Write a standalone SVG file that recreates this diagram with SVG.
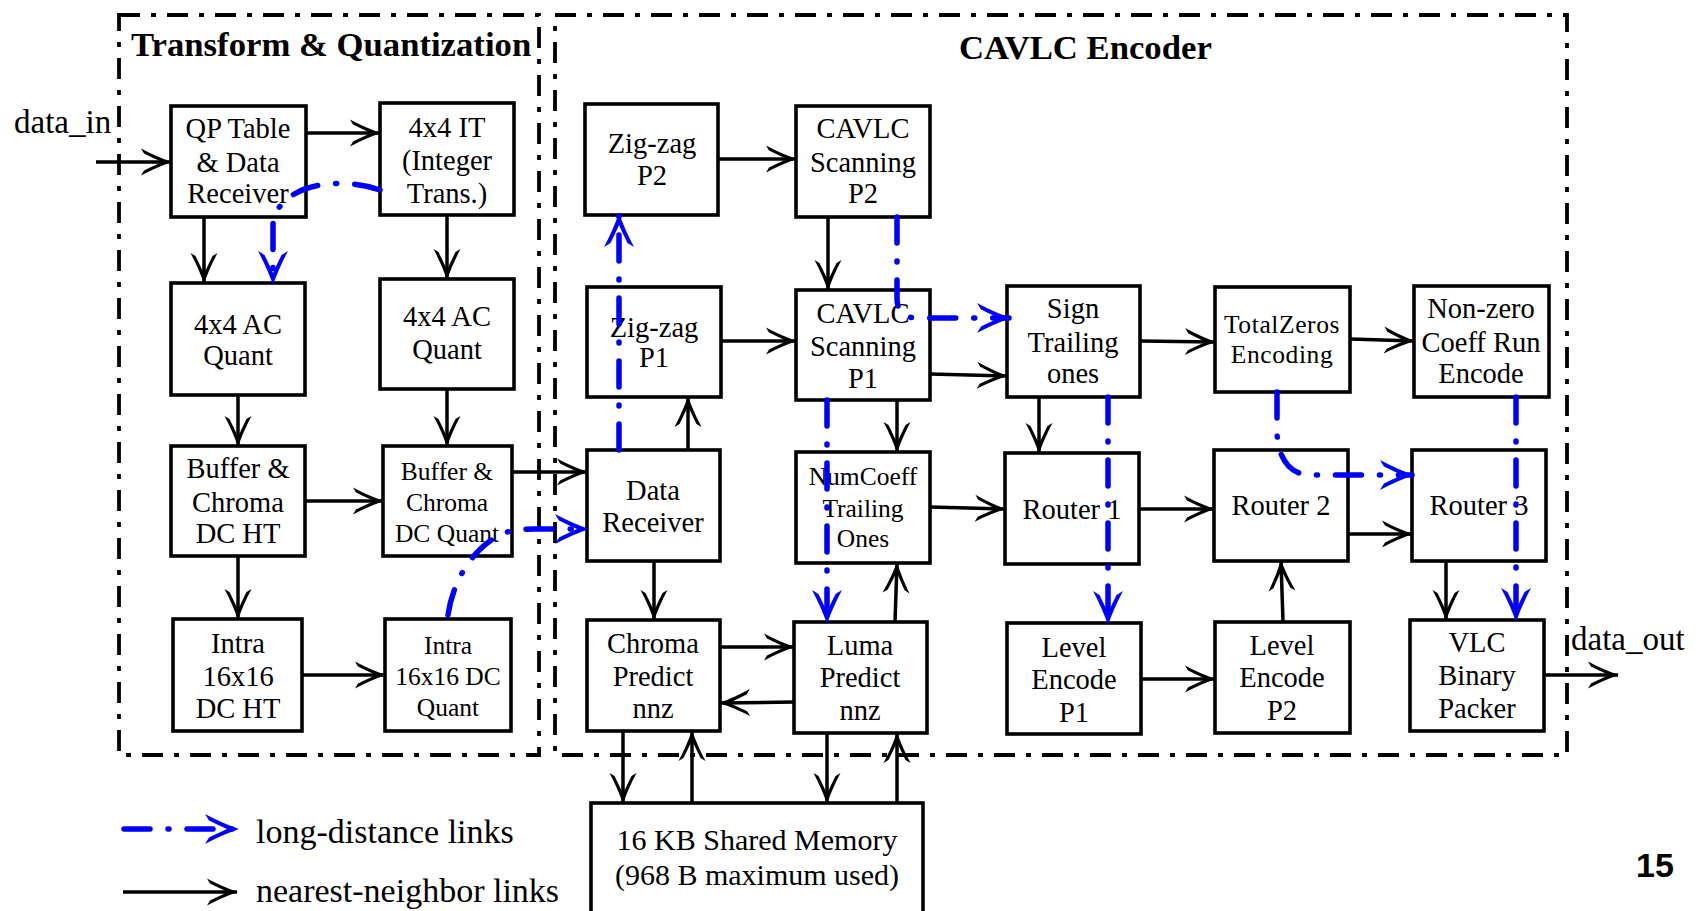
<svg xmlns="http://www.w3.org/2000/svg" width="1699" height="911" viewBox="0 0 1699 911">
  <style>
    .box { fill: #fff; stroke: #000; stroke-width: 3.6; }
    .grp { fill: none; stroke: #000; stroke-width: 3.8; stroke-dasharray: 21 11 5 11; }
    .t { font-family: "Liberation Serif", "Times New Roman", serif; font-size: 28.5px; text-anchor: middle; fill: #000; }
    .ts { font-size: 25.5px; }
    .title { font-family: "Liberation Serif", "Times New Roman", serif; font-size: 34.7px; font-weight: bold; fill: #000; }
    .lbl { font-family: "Liberation Serif", "Times New Roman", serif; font-size: 33px; fill: #000; }
    .leg { font-family: "Liberation Serif", "Times New Roman", serif; font-size: 34px; fill: #000; }
    .nn { fill: none; stroke: #000; stroke-width: 3.5; marker-end: url(#ah); }
    .ld { fill: none; stroke: #0000ff; stroke-width: 5.5; stroke-linecap: round; stroke-dasharray: 26 18 1 18; marker-end: url(#ahb); }
    .pg { font-family: "Liberation Sans", Arial, sans-serif; font-size: 34px; font-weight: bold; fill: #000; }
  </style>
  <defs>
    <!-- open barbed arrowheads; tip sits on the path end -->
    <marker id="ah" markerUnits="userSpaceOnUse" viewBox="-32 -15 34 30" markerWidth="34" markerHeight="30" refX="0" refY="0" orient="auto">
      <path d="M1,0 Q-14,-5 -30,-13.5 L-27,-8.5 Q-16,-3 -9,0 Q-16,3 -27,8.5 L-30,13.5 Q-14,5 1,0 Z" fill="#000"/>
    </marker>
    <marker id="ahb" markerUnits="userSpaceOnUse" viewBox="-34 -17 37 34" markerWidth="37" markerHeight="34" refX="0" refY="0" orient="auto">
      <path d="M2,0 Q-14,-5.5 -32,-15 L-28,-8.5 Q-17,-3 -10,0 Q-17,3 -28,8.5 L-32,15 Q-14,5.5 2,0 Z" fill="#0000ff"/>
    </marker>
  </defs>

  <rect width="1699" height="911" fill="#fff"/>

  <!-- block groupings -->
  <g id="group-tq">
    <rect class="grp" x="119" y="15" width="420" height="740"/>
    <text class="title" x="131" y="56">Transform &amp; Quantization</text>
  </g>
  <g id="group-cavlc">
    <rect class="grp" x="555" y="15" width="1012" height="740"/>
    <text class="title" x="959" y="59">CAVLC Encoder</text>
  </g>

  <!-- transform and quantization nodes -->
  <g id="qp-table">
    <rect class="box" x="171" y="106" width="135" height="111"/>
    <text class="t"><tspan x="238" y="138">QP Table</tspan><tspan x="238" y="172">&amp; Data</tspan><tspan x="238" y="203">Receiver</tspan></text>
  </g>
  <g id="int-transform">
    <rect class="box" x="380" y="103" width="134" height="112"/>
    <text class="t"><tspan x="447" y="137">4x4 IT</tspan><tspan x="447" y="170">(Integer</tspan><tspan x="447" y="203">Trans.)</tspan></text>
  </g>
  <g id="ac-quant-1">
    <rect class="box" x="171" y="283" width="134" height="112"/>
    <text class="t"><tspan x="238" y="334">4x4 AC</tspan><tspan x="238" y="365">Quant</tspan></text>
  </g>
  <g id="ac-quant-2">
    <rect class="box" x="380" y="279" width="134" height="110"/>
    <text class="t"><tspan x="447" y="326">4x4 AC</tspan><tspan x="447" y="359">Quant</tspan></text>
  </g>
  <g id="chroma-dc-ht">
    <rect class="box" x="171" y="446" width="134" height="110"/>
    <text class="t"><tspan x="238" y="478">Buffer &amp;</tspan><tspan x="238" y="512">Chroma</tspan><tspan x="238" y="543">DC HT</tspan></text>
  </g>
  <g id="chroma-dc-quant">
    <rect class="box" x="383" y="446" width="129" height="110"/>
    <text class="t ts"><tspan x="447" y="480">Buffer &amp;</tspan><tspan x="447" y="511">Chroma</tspan><tspan x="447" y="542">DC Quant</tspan></text>
  </g>
  <g id="intra-dc-ht">
    <rect class="box" x="173" y="619" width="129" height="112"/>
    <text class="t"><tspan x="238" y="653">Intra</tspan><tspan x="238" y="686">16x16</tspan><tspan x="238" y="718">DC HT</tspan></text>
  </g>
  <g id="intra-dc-quant">
    <rect class="box" x="385" y="619" width="126" height="112"/>
    <text class="t ts"><tspan x="448" y="654">Intra</tspan><tspan x="448" y="685">16x16 DC</tspan><tspan x="448" y="716">Quant</tspan></text>
  </g>

  <!-- CAVLC encoder nodes -->
  <g id="zigzag-p2">
    <rect class="box" x="585" y="104" width="133" height="111"/>
    <text class="t"><tspan x="652" y="153">Zig-zag</tspan><tspan x="652" y="185">P2</tspan></text>
  </g>
  <g id="scan-p2">
    <rect class="box" x="796" y="106" width="134" height="111"/>
    <text class="t"><tspan x="863" y="138">CAVLC</tspan><tspan x="863" y="172">Scanning</tspan><tspan x="863" y="203">P2</tspan></text>
  </g>
  <g id="zigzag-p1">
    <rect class="box" x="587" y="287" width="134" height="110"/>
    <text class="t"><tspan x="654" y="337">Zig-zag</tspan><tspan x="654" y="367">P1</tspan></text>
  </g>
  <g id="scan-p1">
    <rect class="box" x="796" y="290" width="134" height="110"/>
    <text class="t"><tspan x="863" y="323">CAVLC</tspan><tspan x="863" y="356">Scanning</tspan><tspan x="863" y="388">P1</tspan></text>
  </g>
  <g id="sign-trailing">
    <rect class="box" x="1007" y="286" width="133" height="111"/>
    <text class="t"><tspan x="1073" y="318">Sign</tspan><tspan x="1073" y="352">Trailing</tspan><tspan x="1073" y="383">ones</tspan></text>
  </g>
  <g id="total-zeros">
    <rect class="box" x="1215" y="287" width="135" height="105"/>
    <text class="t ts" letter-spacing="0.6"><tspan x="1282" y="333">TotalZeros</tspan><tspan x="1282" y="363">Encoding</tspan></text>
  </g>
  <g id="coeff-run">
    <rect class="box" x="1414" y="286" width="135" height="111"/>
    <text class="t"><tspan x="1481" y="318">Non-zero</tspan><tspan x="1481" y="352">Coeff Run</tspan><tspan x="1481" y="383">Encode</tspan></text>
  </g>
  <g id="data-receiver">
    <rect class="box" x="587" y="450" width="133" height="111"/>
    <text class="t"><tspan x="653" y="500">Data</tspan><tspan x="653" y="532">Receiver</tspan></text>
  </g>
  <g id="numcoeff">
    <rect class="box" x="796" y="452" width="134" height="111"/>
    <text class="t ts"><tspan x="863" y="485">NumCoeff</tspan><tspan x="863" y="517">Trailing</tspan><tspan x="863" y="547">Ones</tspan></text>
  </g>
  <g id="router-1">
    <rect class="box" x="1005" y="453" width="134" height="111"/>
    <text class="t" x="1072" y="519">Router 1</text>
  </g>
  <g id="router-2">
    <rect class="box" x="1214" y="450" width="134" height="111"/>
    <text class="t" x="1281" y="515">Router 2</text>
  </g>
  <g id="router-3">
    <rect class="box" x="1412" y="450" width="134" height="111"/>
    <text class="t" x="1479" y="515">Router 3</text>
  </g>
  <g id="chroma-nnz">
    <rect class="box" x="587" y="620" width="133" height="111"/>
    <text class="t"><tspan x="653" y="653">Chroma</tspan><tspan x="653" y="686">Predict</tspan><tspan x="653" y="718">nnz</tspan></text>
  </g>
  <g id="luma-nnz">
    <rect class="box" x="794" y="622" width="133" height="111"/>
    <text class="t"><tspan x="860" y="655">Luma</tspan><tspan x="860" y="687">Predict</tspan><tspan x="860" y="720">nnz</tspan></text>
  </g>
  <g id="level-p1">
    <rect class="box" x="1007" y="623" width="134" height="111"/>
    <text class="t"><tspan x="1074" y="657">Level</tspan><tspan x="1074" y="689">Encode</tspan><tspan x="1074" y="722">P1</tspan></text>
  </g>
  <g id="level-p2">
    <rect class="box" x="1215" y="622" width="135" height="111"/>
    <text class="t"><tspan x="1282" y="655">Level</tspan><tspan x="1282" y="687">Encode</tspan><tspan x="1282" y="720">P2</tspan></text>
  </g>
  <g id="vlc-packer">
    <rect class="box" x="1410" y="620" width="134" height="111"/>
    <text class="t"><tspan x="1477" y="652">VLC</tspan><tspan x="1477" y="685">Binary</tspan><tspan x="1477" y="718">Packer</tspan></text>
  </g>
  <g id="shared-memory">
    <rect class="box" x="591" y="803" width="332" height="130"/>
    <text class="t" style="font-size:30px"><tspan x="757" y="850">16 KB Shared Memory</tspan><tspan x="757" y="885">(968 B maximum used)</tspan></text>
  </g>

  <!-- external ports -->
  <g id="port-in">
    <text class="lbl" x="14" y="133">data_in</text>
  </g>
  <g id="port-out">
    <text class="lbl" x="1571" y="650">data_out</text>
  </g>

  <!-- links -->
  <g id="connectors">
    <path class="nn" d="M96,162 L171,162"/>
    <path class="nn" d="M306,133 L380,133"/>
    <path class="nn" d="M204,217 L204,283"/>
    <path class="nn" d="M447,215 L447,279"/>
    <path class="nn" d="M238,395 L238,446"/>
    <path class="nn" d="M447,389 L447,446"/>
    <path class="nn" d="M305,501 L383,501"/>
    <path class="nn" d="M238,556 L238,619"/>
    <path class="nn" d="M302,675 L385,675"/>
    <path class="nn" d="M512,472 L587,472"/>
    <path class="nn" d="M718,159 L796,159"/>
    <path class="nn" d="M828,217 L828,290"/>
    <path class="nn" d="M721,341 L796,341"/>
    <path class="nn" d="M688,450 L688,397"/>
    <path class="nn" d="M930,374 L1007,376"/>
    <path class="nn" d="M897,400 L897,452"/>
    <path class="nn" d="M1140,341 L1215,342"/>
    <path class="nn" d="M1350,339 L1414,341"/>
    <path class="nn" d="M1039,397 L1039,453"/>
    <path class="nn" d="M930,507 L1005,509"/>
    <path class="nn" d="M1139,509 L1214,509"/>
    <path class="nn" d="M1348,534 L1412,534"/>
    <path class="nn" d="M1446,561 L1446,620"/>
    <path class="nn" d="M654,561 L654,620"/>
    <path class="nn" d="M720,647 L794,647"/>
    <path class="nn" d="M794,702 L720,703"/>
    <path class="nn" d="M895,622 L897,563"/>
    <path class="nn" d="M1141,679 L1215,679"/>
    <path class="nn" d="M1283,622 L1281,561"/>
    <path class="nn" d="M1544,675 L1618,675"/>
    <path class="nn" d="M623,731 L623,803"/>
    <path class="nn" d="M692,803 L692,731"/>
    <path class="nn" d="M827,733 L827,803"/>
    <path class="nn" d="M897,803 L897,733"/>

    <path class="ld" d="M380,190 C345,178 300,182 281,205 C275,212 273,218 273,226 L273,283"/>
    <path class="ld" d="M448,615 C452,585 470,550 500,535 C510,530 520,529 535,529 L587,529"/>
    <path class="ld" d="M619,450 L619,215"/>
    <path class="ld" d="M897,217 L897,298 Q897,318 917,318 L1009,318"/>
    <path class="ld" d="M827,400 L827,622"/>
    <path class="ld" d="M1108,397 L1108,623"/>
    <path class="ld" d="M1277,392 L1277,430 C1277,458 1290,475 1310,475 L1412,475"/>
    <path class="ld" d="M1516,397 L1516,620"/>
  </g>

  <!-- key -->
  <g id="legend">
    <path class="ld" d="M124,829 L237,829"/>
    <text class="leg" x="256" y="843">long-distance links</text>
    <path class="nn" d="M123,892 L237,892"/>
    <text class="leg" x="256" y="902">nearest-neighbor links</text>
  </g>

  <text class="pg" x="1636" y="877">15</text>
</svg>
